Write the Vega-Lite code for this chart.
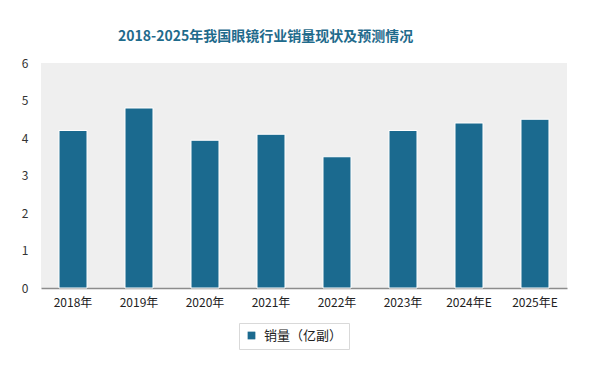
{
  "$schema": "https://vega.github.io/schema/vega-lite/v6.json",
  "width": 526,
  "height": 225,
  "autosize": {"type": "none"},
  "padding": {"left": 41, "top": 63, "right": 25, "bottom": 82},
  "background": "white",
  "title": {
    "text": "2018-2025年我国眼镜行业销量现状及预测情况",
    "anchor": "start",
    "frame": "group",
    "dx": 77,
    "offset": 13,
    "font": "Noto Sans CJK SC",
    "fontSize": 14,
    "fontWeight": "bold",
    "color": "#1F6B8C"
  },
  "data": {
    "values": [
      {"year": "2018年", "value": 4.2, "series": "销量（亿副）"},
      {"year": "2019年", "value": 4.8, "series": "销量（亿副）"},
      {"year": "2020年", "value": 3.94, "series": "销量（亿副）"},
      {"year": "2021年", "value": 4.1, "series": "销量（亿副）"},
      {"year": "2022年", "value": 3.5, "series": "销量（亿副）"},
      {"year": "2023年", "value": 4.2, "series": "销量（亿副）"},
      {"year": "2024年E", "value": 4.4, "series": "销量（亿副）"},
      {"year": "2025年E", "value": 4.5, "series": "销量（亿副）"}
    ]
  },
  "mark": {"type": "bar", "stroke": "white", "strokeWidth": 1},
  "encoding": {
    "x": {
      "field": "year",
      "type": "nominal",
      "sort": null,
      "title": null,
      "scale": {"paddingInner": 0.576, "paddingOuter": 0.273},
      "axis": {
        "labelAngle": 0,
        "ticks": false,
        "domainColor": "#8c8c8c",
        "domainWidth": 1.5,
        "labelFont": "Noto Sans CJK SC",
        "labelFontSize": 12,
        "labelColor": "#222222",
        "labelPadding": 9
      }
    },
    "y": {
      "field": "value",
      "type": "quantitative",
      "title": null,
      "scale": {"domain": [0, 6]},
      "axis": {
        "tickCount": 6,
        "grid": false,
        "ticks": false,
        "domain": false,
        "labelFont": "Noto Sans CJK SC",
        "labelFontSize": 12,
        "labelColor": "#333333",
        "labelPadding": 13
      }
    },
    "color": {
      "field": "series",
      "type": "nominal",
      "scale": {"range": ["#1B6A8F"]},
      "legend": {
        "title": null,
        "orient": "none",
        "legendX": 198,
        "legendY": 260,
        "direction": "horizontal",
        "symbolType": "square",
        "symbolSize": 60,
        "symbolStrokeWidth": 0,
        "labelFont": "Noto Sans CJK SC",
        "labelFontSize": 13,
        "labelColor": "#222222",
        "strokeColor": "#d9d9d9",
        "fillColor": "white",
        "padding": 6,
        "offset": 0,
        "labelOffset": 6
      }
    }
  },
  "config": {
    "view": {"fill": "#efefef", "stroke": null}
  }
}
